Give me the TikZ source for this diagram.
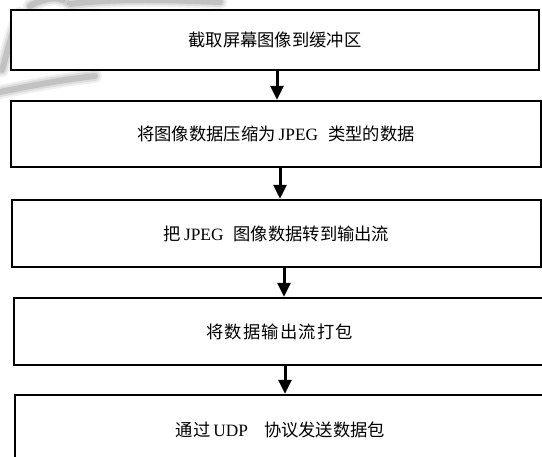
\documentclass[tikz,border=0pt]{standalone}
\usepackage{fontspec}
\usetikzlibrary{arrows.meta}
\newfontfamily\cjk{Noto Sans CJK SC}
\newfontfamily\cjkwide{Noto Sans CJK SC}[LetterSpace=7]
\newfontfamily\lat{Liberation Serif}
\begin{document}
\begin{tikzpicture}[x=1pt,y=-1pt,
  stepbox/.style={draw=black,line width=2.4pt,fill=white,rectangle,inner sep=0pt,
    font=\cjk\fontsize{17.3}{19}\selectfont},
  arr/.style={line width=3pt,-{Triangle[width=13pt,length=14pt]}}]
\useasboundingbox (0,0) rectangle (542,457);
\fill[white] (0,0) rectangle (542,457);
% faint watermark
\begin{scope}[line cap=round]
\foreach \w/\o in {14/0.06,10/0.08,6/0.12}{
  \draw[line width=\w pt,black,opacity=\o] (0,92) .. controls (30,86) and (60,80) .. (95,76);
  \draw[line width=\w pt,black,opacity=\o] (2,70) .. controls (8,50) and (12,30) .. (20,14);
  \draw[line width=\w pt,black,opacity=\o] (70,4) .. controls (120,-2) and (170,0) .. (220,2);
  \draw[line width=\w pt,black,opacity=\o] (30,6) .. controls (40,0) and (55,-4) .. (62,0);
}
\end{scope}
\node[stepbox,minimum width=528pt,minimum height=60pt] (b1) at (275,40) {截取屏幕图像到缓冲区};
\node[stepbox,minimum width=530pt,minimum height=66pt] (b2) at (276,134) {将图像数据压缩为\hspace{3pt}{\lat JPEG}\hspace{10pt}类型的数据};
\node[stepbox,minimum width=529pt,minimum height=67pt] (b3) at (276.5,233.5) {把\hspace{3pt}{\lat JPEG}\hspace{10pt}图像数据转到输出流};
\node[stepbox,minimum width=531pt,minimum height=67pt] (b4) at (279.5,331.5) {\cjkwide 将数据输出流打包};
\node[stepbox,minimum width=531pt,minimum height=70pt] (b5) at (280.5,430) {通过\hspace{3pt}{\lat UDP}\hspace{16pt}协议发送数据包};
\draw[arr] (b1.south -| 277,0) -- (b2.north -| 277,0);
\draw[arr] (b2.south -| 280,0) -- (b3.north -| 280,0);
\draw[arr] (b3.south -| 284,0) -- (b4.north -| 284,0);
\draw[arr] (b4.south -| 285,0) -- (b5.north -| 285,0);
\end{tikzpicture}
\end{document}
